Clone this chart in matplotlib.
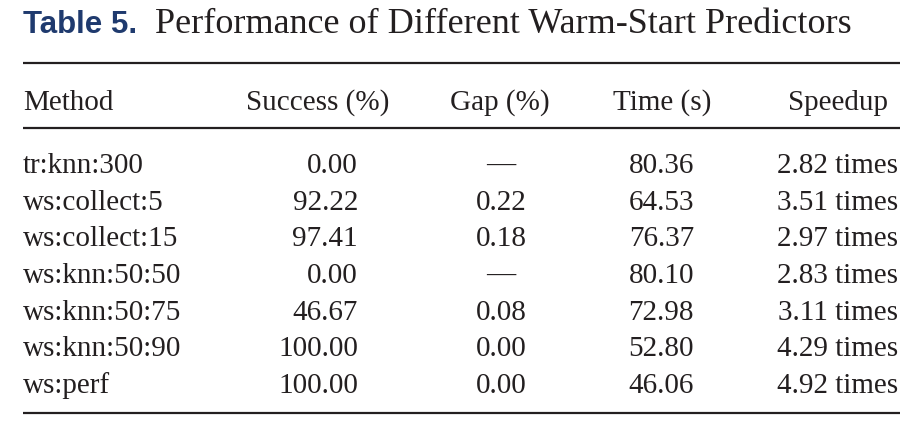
import matplotlib
matplotlib.use("Agg")
import matplotlib.pyplot as plt

# Tabelldata
methods = ["tr:knn:300", "ws:collect:5", "ws:collect:15", "ws:knn:50:50",
           "ws:knn:50:75", "ws:knn:50:90", "ws:perf"]
success = ["0.00", "92.22", "97.41", "0.00", "46.67", "100.00", "100.00"]
gap = ["\u2014", "0.22", "0.18", "\u2014", "0.08", "0.00", "0.00"]
time_s = ["80.36", "64.53", "76.37", "80.10", "72.98", "52.80", "46.06"]
speedup = ["2.82", "3.51", "2.97", "2.83", "3.11", "4.29", "4.92"]
headers = ["Method", "Success (%)", "Gap (%)", "Time (s)", "Speedup"]

serif = "Liberation Serif"
ink = "#231f20"
blue = "#1f3a6e"
fs = 21

fig = plt.figure(figsize=(9.15, 4.33), dpi=100)
ax = fig.add_axes([0, 0, 1, 1])
ax.set_xlim(0, 915)
ax.set_ylim(433, 0)
ax.axis("off")

# tittel
ax.text(23, 33, "Table 5.", fontsize=22.5, fontweight="bold", family="Liberation Sans",
        color=blue, va="baseline", ha="left")
ax.text(155, 33, "Performance of Different Warm-Start Predictors", fontsize=26,
        family=serif, color=ink, va="baseline", ha="left")

# linjer
for y in [63, 128, 413]:
    ax.plot([23, 900], [y, y], color=ink, lw=1.6, solid_capstyle="butt")

# overskrifter
head_x = [23, 318, 500, 662, 888]
head_ha = ["left", "center", "center", "center", "right"]
for h, x, ha in zip(headers, head_x, head_ha):
    ax.text(x, 110, h, fontsize=fs, family=serif, color=ink, va="baseline", ha=ha)

# rader
y0 = 173
dy = 36.7
for i in range(len(methods)):
    y = y0 + i * dy
    ax.text(23, y, methods[i], fontsize=fs, family=serif, color=ink, va="baseline", ha="left")
    ax.text(358, y, success[i], fontsize=fs, family=serif, color=ink, va="baseline", ha="right")
    ax.text(501, y, gap[i], fontsize=fs, family=serif, color=ink, va="baseline", ha="center")
    ax.text(694, y, time_s[i], fontsize=fs, family=serif, color=ink, va="baseline", ha="right")
    ax.text(898, y, speedup[i] + " times", fontsize=fs, family=serif, color=ink,
            va="baseline", ha="right")

fig.savefig("out.png", dpi=100)
